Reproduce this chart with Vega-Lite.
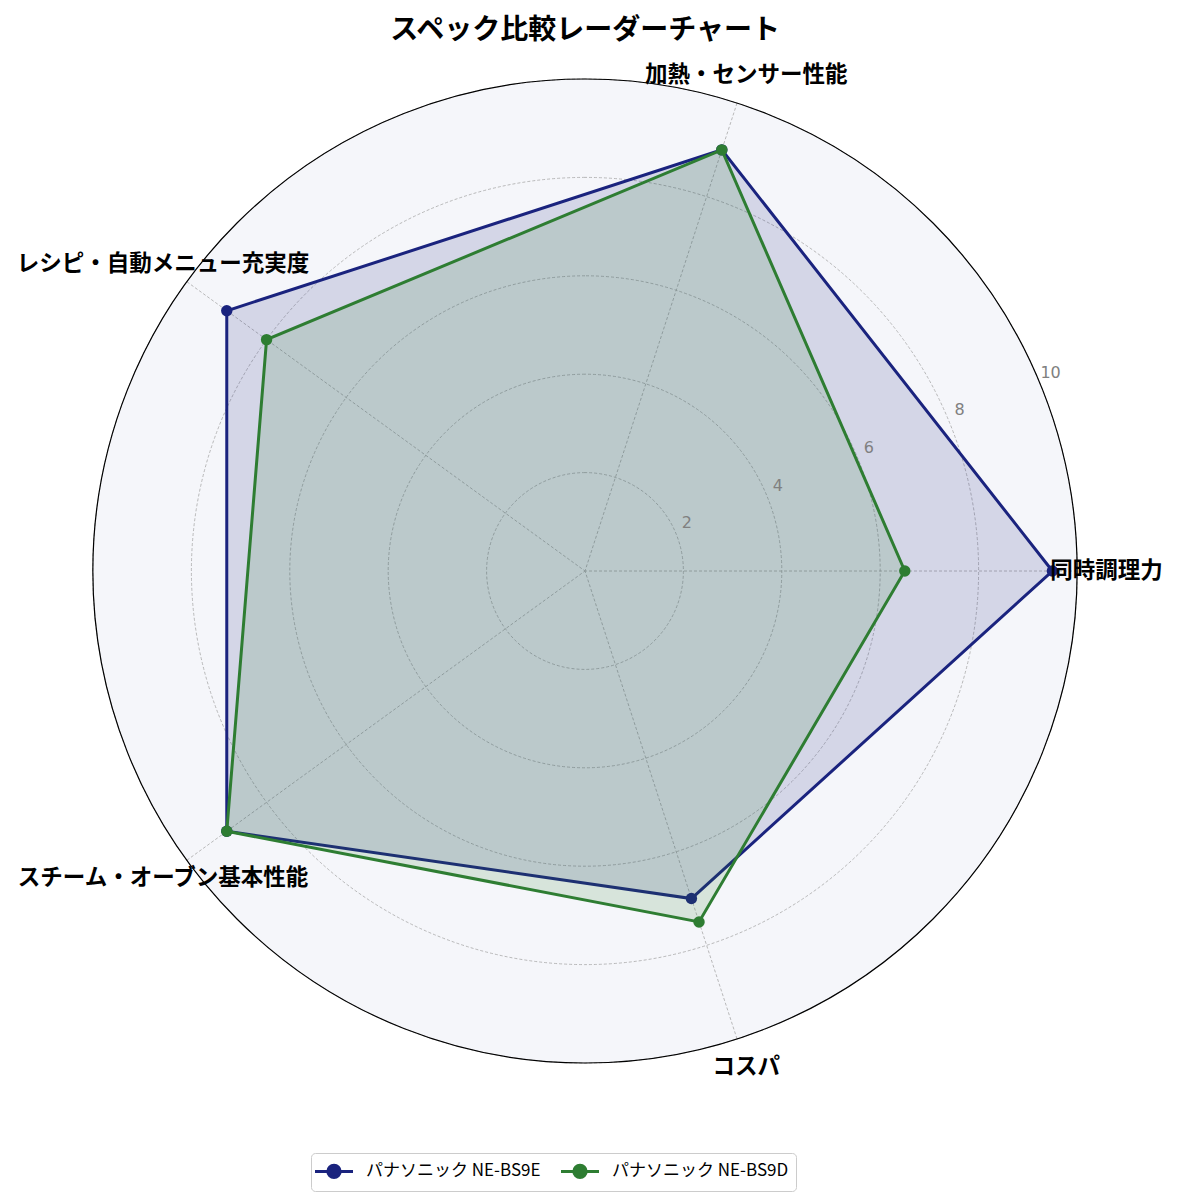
{
  "$schema": "https://vega.github.io/schema/vega-lite/v6.json",
  "autosize": {"type": "none"},
  "width": 984,
  "height": 984,
  "padding": {"left": 93, "top": 79, "right": 102, "bottom": 139},
  "background": "white",
  "title": {
    "text": "スペック比較レーダーチャート",
    "font": "Noto Sans CJK JP",
    "fontSize": 28,
    "fontWeight": "bold",
    "color": "black",
    "anchor": "middle",
    "frame": "group",
    "offset": 19
  },
  "config": {"view": {"stroke": null}},
  "datasets": {
    "axes": [
      {"axis": "同時調理力", "idx": 0},
      {"axis": "加熱・センサー性能", "idx": 1},
      {"axis": "レシピ・自動メニュー充実度", "idx": 2},
      {"axis": "スチーム・オーブン基本性能", "idx": 3},
      {"axis": "コスパ", "idx": 4}
    ],
    "ticks": [{"r": 2}, {"r": 4}, {"r": 6}, {"r": 8}, {"r": 10}],
    "scores": [
      {"model": "パナソニック NE-BS9E", "axis": "同時調理力", "idx": 0, "value": 9.5},
      {"model": "パナソニック NE-BS9E", "axis": "加熱・センサー性能", "idx": 1, "value": 9.0},
      {"model": "パナソニック NE-BS9E", "axis": "レシピ・自動メニュー充実度", "idx": 2, "value": 9.0},
      {"model": "パナソニック NE-BS9E", "axis": "スチーム・オーブン基本性能", "idx": 3, "value": 9.0},
      {"model": "パナソニック NE-BS9E", "axis": "コスパ", "idx": 4, "value": 7.0},
      {"model": "パナソニック NE-BS9D", "axis": "同時調理力", "idx": 0, "value": 6.5},
      {"model": "パナソニック NE-BS9D", "axis": "加熱・センサー性能", "idx": 1, "value": 9.0},
      {"model": "パナソニック NE-BS9D", "axis": "レシピ・自動メニュー充実度", "idx": 2, "value": 8.0},
      {"model": "パナソニック NE-BS9D", "axis": "スチーム・オーブン基本性能", "idx": 3, "value": 9.0},
      {"model": "パナソニック NE-BS9D", "axis": "コスパ", "idx": 4, "value": 7.5}
    ]
  },
  "layer": [
    {
      "data": {"values": [{"r": 10}]},
      "mark": {"type": "arc", "fill": "#f5f6fa", "stroke": null},
      "encoding": {
        "theta": {"datum": 1, "type": "quantitative", "stack": null, "scale": {"domain": [0, 1], "range": [0, 6.2832]}},
        "radius": {"field": "r", "type": "quantitative", "stack": null, "scale": {"type": "linear", "domain": [0, 10], "range": [0, 492], "zero": true}}
      }
    },
    {
      "data": {"name": "ticks"},
      "mark": {"type": "arc", "filled": false, "stroke": "#a8a8a8", "strokeWidth": 0.8, "strokeDash": [3, 2]},
      "encoding": {
        "theta": {"datum": 1, "type": "quantitative", "stack": null, "scale": {"domain": [0, 1], "range": [0, 6.2832]}},
        "radius": {"field": "r", "type": "quantitative", "stack": null, "scale": {"type": "linear", "domain": [0, 10], "range": [0, 492], "zero": true}}
      }
    },
    {
      "data": {"name": "axes"},
      "transform": [
        {"calculate": "datum.idx * 2 * PI / 5", "as": "angle"},
        {"calculate": "10 * cos(datum.angle)", "as": "ex"},
        {"calculate": "10 * sin(datum.angle)", "as": "ey"}
      ],
      "mark": {"type": "rule", "stroke": "#a8a8a8", "strokeWidth": 0.8, "strokeDash": [3, 2]},
      "encoding": {
        "x": {"field": "ex", "type": "quantitative", "scale": {"domain": [-10, 10], "nice": false, "zero": false}, "axis": null},
        "y": {"field": "ey", "type": "quantitative", "scale": {"domain": [-10, 10], "nice": false, "zero": false}, "axis": null},
        "x2": {"datum": 0},
        "y2": {"datum": 0}
      }
    },
    {
      "data": {"values": [{"r": 10}]},
      "mark": {"type": "arc", "filled": false, "stroke": "black", "strokeWidth": 1.2},
      "encoding": {
        "theta": {"datum": 1, "type": "quantitative", "stack": null, "scale": {"domain": [0, 1], "range": [0, 6.2832]}},
        "radius": {"field": "r", "type": "quantitative", "stack": null, "scale": {"type": "linear", "domain": [0, 10], "range": [0, 492], "zero": true}}
      }
    },
    {
      "data": {"name": "scores"},
      "transform": [
        {"filter": "datum.model === 'パナソニック NE-BS9E'"},
        {"calculate": "datum.idx * 2 * PI / 5", "as": "angle"},
        {"calculate": "datum.value * cos(datum.angle)", "as": "px"},
        {"calculate": "datum.value * sin(datum.angle)", "as": "py"}
      ],
      "layer": [
        {
          "mark": {"type": "line", "interpolate": "linear-closed", "strokeWidth": 3, "fill": "#1a237e", "fillOpacity": 0.15},
          "encoding": {
            "x": {"field": "px", "type": "quantitative"},
            "y": {"field": "py", "type": "quantitative"},
            "order": {"field": "idx"},
            "color": {"field": "model", "type": "nominal"}
          }
        },
        {
          "mark": {"type": "point", "filled": true, "size": 130, "opacity": 1, "shape": "circle"},
          "encoding": {
            "x": {"field": "px", "type": "quantitative"},
            "y": {"field": "py", "type": "quantitative"},
            "color": {"field": "model", "type": "nominal"}
          }
        }
      ]
    },
    {
      "data": {"name": "scores"},
      "transform": [
        {"filter": "datum.model === 'パナソニック NE-BS9D'"},
        {"calculate": "datum.idx * 2 * PI / 5", "as": "angle"},
        {"calculate": "datum.value * cos(datum.angle)", "as": "px"},
        {"calculate": "datum.value * sin(datum.angle)", "as": "py"}
      ],
      "layer": [
        {
          "mark": {"type": "line", "interpolate": "linear-closed", "strokeWidth": 3, "fill": "#2e7d32", "fillOpacity": 0.15},
          "encoding": {
            "x": {"field": "px", "type": "quantitative"},
            "y": {"field": "py", "type": "quantitative"},
            "order": {"field": "idx"},
            "color": {"field": "model", "type": "nominal"}
          }
        },
        {
          "mark": {"type": "point", "filled": true, "size": 130, "opacity": 1, "shape": "circle"},
          "encoding": {
            "x": {"field": "px", "type": "quantitative"},
            "y": {"field": "py", "type": "quantitative"},
            "color": {
              "field": "model",
              "type": "nominal",
              "scale": {"domain": ["パナソニック NE-BS9E", "パナソニック NE-BS9D"], "range": ["#1a237e", "#2e7d32"]},
              "legend": {
                "title": null,
                "orient": "none",
                "legendX": 218,
                "legendY": 1074,
                "direction": "horizontal",
                "columns": 2,
                "labelFont": "Noto Sans CJK JP",
                "labelFontSize": 17,
                "labelColor": "black",
                "labelLimit": 400,
                "symbolType": "M-2,0L2,0M0.65,0A0.65,0.65 0 1,1 -0.65,0A0.65,0.65 0 1,1 0.65,0Z",
                "symbolSize": 361,
                "symbolStrokeWidth": 3,
                "symbolOpacity": 1,
                "symbolOffset": 5,
                "labelOffset": 21,
                "columnPadding": 14,
                "strokeColor": "#cccccc",
                "fillColor": "white",
                "padding": 7,
                "cornerRadius": 4
              }
            }
          }
        }
      ]
    },
    {
      "data": {"name": "ticks"},
      "transform": [
        {"calculate": "datum.r * cos(PI / 8)", "as": "tx"},
        {"calculate": "datum.r * sin(PI / 8)", "as": "ty"}
      ],
      "mark": {"type": "text", "align": "center", "baseline": "middle", "dx": 11, "dy": -10, "font": "DejaVu Sans", "fontSize": 16, "fill": "#808080"},
      "encoding": {
        "x": {"field": "tx", "type": "quantitative"},
        "y": {"field": "ty", "type": "quantitative"},
        "text": {"field": "r", "type": "quantitative"}
      }
    },
    {
      "data": {"name": "axes"},
      "transform": [
        {"calculate": "datum.idx * 2 * PI / 5", "as": "angle"},
        {"calculate": "10.6 * cos(datum.angle)", "as": "lx"},
        {"calculate": "10.6 * sin(datum.angle)", "as": "ly"}
      ],
      "mark": {"type": "text", "align": "center", "baseline": "middle", "font": "Noto Sans CJK JP", "fontSize": 22.5, "fontWeight": "bold", "fill": "black"},
      "encoding": {
        "x": {"field": "lx", "type": "quantitative"},
        "y": {"field": "ly", "type": "quantitative"},
        "text": {"field": "axis", "type": "nominal"}
      }
    }
  ]
}
